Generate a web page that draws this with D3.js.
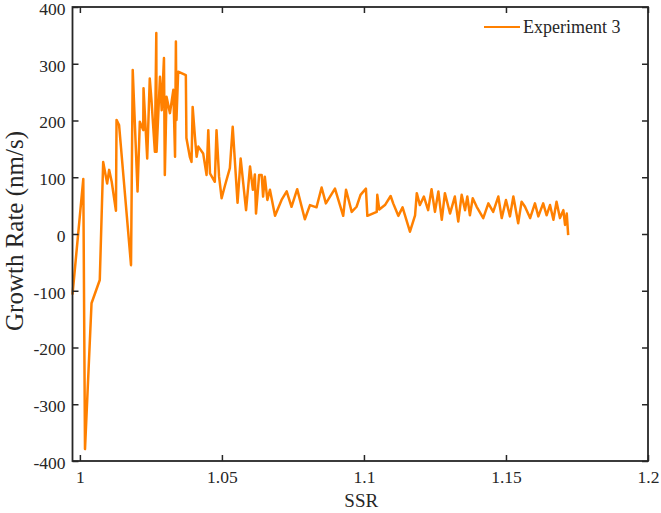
<!DOCTYPE html>
<html>
<head>
<meta charset="utf-8">
<script src="https://cdn.jsdelivr.net/npm/d3@7"></script>
<style>
  body { margin: 0; background: #fff; }
  text { font-family: "Liberation Serif", "DejaVu Serif", serif; fill: #262626; }
</style>
</head>
<body>
<div id="chart"></div>
<script>
// SSR values (x) and growth rate (nm/s)
var ssr = [
  0.9974, 1.0012, 1.0018, 1.0041, 1.0070, 1.0082, 1.0096, 1.0103, 1.0112, 1.0127,
  1.0129, 1.0138, 1.0180, 1.0186, 1.0203, 1.0211, 1.0223, 1.0224, 1.0237, 1.0246,
  1.0252, 1.0264, 1.0269, 1.0270, 1.0282, 1.0288, 1.0296, 1.0299, 1.0305, 1.0317,
  1.0329, 1.0335, 1.0338, 1.0340, 1.0346, 1.0373, 1.0375, 1.0387, 1.0393, 1.0397,
  1.0405, 1.0411, 1.0417, 1.0434, 1.0446, 1.0452, 1.0458, 1.0475, 1.0481, 1.0490,
  1.0499, 1.0511, 1.0528, 1.0538, 1.0555, 1.0566, 1.0585, 1.0599, 1.0609, 1.0616,
  1.0620, 1.0631, 1.0640, 1.0645, 1.0651, 1.0660, 1.0669, 1.0687, 1.0710, 1.0728,
  1.0745, 1.0765, 1.0792, 1.0810, 1.0833, 1.0851, 1.0866, 1.0898, 1.0927, 1.0937,
  1.0957, 1.0974, 1.0988, 1.1007, 1.1012, 1.1045, 1.1047, 1.1054, 1.1074, 1.1094,
  1.1103, 1.1121, 1.1136, 1.1162, 1.1180, 1.1186, 1.1197, 1.1211, 1.1226, 1.1238,
  1.1250, 1.1262, 1.1274, 1.1285, 1.1303, 1.1320, 1.1332, 1.1344, 1.1356, 1.1364,
  1.1373, 1.1383, 1.1397, 1.1420, 1.1438, 1.1455, 1.1473, 1.1485, 1.1500, 1.1514,
  1.1526, 1.1543, 1.1555, 1.1567, 1.1585, 1.1602, 1.1614, 1.1631, 1.1643, 1.1655,
  1.1667, 1.1678, 1.1690, 1.1702, 1.1708, 1.1714, 1.1719
];
var growth = [
  -107, 97, -379, -122, -81, 127, 89, 113, 92, 41,
  201, 192, -55, 289, 75, 198, 183, 257, 133, 274,
  236, 145, 354, 145, 277, 218, 310, 104, 242, 213,
  254, 136, 339, 201, 286, 280, 169, 136, 127, 224,
  171, 136, 154, 142, 104, 183, 107, 92, 183, 101,
  63, 86, 116, 189, 55, 133, 42, 119, 78, 105,
  36, 104, 104, 66, 101, 60, 78, 32, 60, 75,
  48, 79, 26, 51, 47, 82, 54, 80, 32, 78,
  39, 48, 69, 80, 32, 39, 69, 43, 51, 67,
  54, 32, 47, 4, 33, 72, 51, 66, 42, 79,
  39, 75, 25, 72, 36, 66, 22, 69, 42, 66,
  33, 63, 48, 28, 54, 39, 66, 28, 60, 31,
  66, 19, 57, 48, 28, 54, 31, 54, 33, 51,
  25, 57, 28, 42, 16, 36, -2
];
var xTicks = [1, 1.05, 1.1, 1.15, 1.2];
var yTicks = [-400, -300, -200, -100, 0, 100, 200, 300, 400];
var seriesName = "Experiment 3";

var W = 661, H = 513;
var plotL = 72.5, plotR = 648, plotT = 7, plotB = 461;

var svg = d3.select("#chart").append("svg")
  .attr("width", W).attr("height", H);

var x = d3.scaleLinear().domain([0.9974, 1.2]).range([plotL, plotR]);
var y = d3.scaleLinear().domain([-400, 400]).range([plotB, plotT]);

var data = ssr.map(function(d, i) { return {x: d, y: growth[i]}; });

// data line
var line = d3.line().x(function(d) { return x(d.x); }).y(function(d) { return y(d.y); });
svg.append("path")
  .datum(data)
  .attr("fill", "none")
  .attr("stroke", "#FF8000")
  .attr("stroke-width", 2.5)
  .attr("stroke-linejoin", "round")
  .attr("d", line);

// axes, ticks pointing inward (matlab style)
var tl = 6;
var fmtY = function(d) { return d; };
var fmtX = function(d) { return d === 1 ? "1" : d3.format(".3~f")(d); };

var gx = svg.append("g").attr("transform", "translate(0," + plotB + ")")
  .call(d3.axisBottom(x).tickValues(xTicks).tickSize(-tl).tickPadding(10).tickFormat(fmtX));
var gxt = svg.append("g").attr("transform", "translate(0," + plotT + ")")
  .call(d3.axisTop(x).tickValues(xTicks).tickSize(-tl).tickFormat(""));
var gy = svg.append("g").attr("transform", "translate(" + plotL + ",0)")
  .call(d3.axisLeft(y).tickValues(yTicks).tickSize(-tl).tickPadding(7).tickFormat(fmtY));
var gyr = svg.append("g").attr("transform", "translate(" + plotR + ",0)")
  .call(d3.axisRight(y).tickValues(yTicks).tickSize(-tl).tickFormat(""));

[gx, gxt, gy, gyr].forEach(function(g) {
  g.select(".domain").remove();
  g.selectAll(".tick line").attr("stroke", "#262626").attr("stroke-width", 1.5);
  g.selectAll(".tick text")
    .attr("font-family", "Liberation Serif, serif")
    .attr("font-size", 17.5)
    .attr("fill", "#262626");
});
gy.selectAll(".tick text").attr("dy", "0.42em");

// box
svg.append("rect")
  .attr("x", plotL).attr("y", plotT)
  .attr("width", plotR - plotL).attr("height", plotB - plotT)
  .attr("fill", "none").attr("stroke", "#262626").attr("stroke-width", 1.8);

// axis titles
svg.append("text")
  .attr("x", (plotL + plotR) / 2 + 1).attr("y", 507)
  .attr("text-anchor", "middle").attr("font-size", 19)
  .text("SSR");
svg.append("text")
  .attr("transform", "translate(23," + 231 + ") rotate(-90)")
  .attr("text-anchor", "middle").attr("font-size", 25)
  .text("Growth Rate (nm/s)");

// legend
svg.append("line")
  .attr("x1", 484).attr("x2", 520).attr("y1", 27).attr("y2", 27)
  .attr("stroke", "#FF8000").attr("stroke-width", 2);
svg.append("text")
  .attr("x", 523).attr("y", 27).attr("dy", "0.35em")
  .attr("font-size", 18)
  .text(seriesName);
</script>
</body>
</html>
